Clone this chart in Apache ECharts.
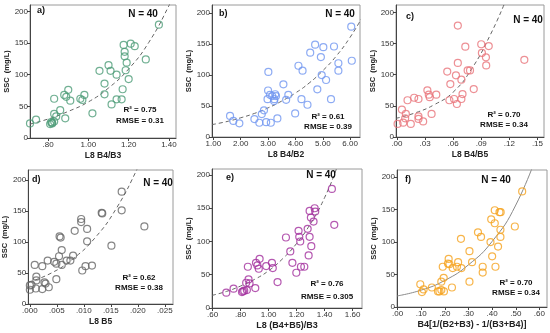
<!DOCTYPE html>
<html><head><meta charset="utf-8">
<script src="https://cdn.jsdelivr.net/npm/echarts@6/dist/echarts.min.js"></script>
<style>html,body{margin:0;padding:0;background:#fff}#c{width:550px;height:333px}</style>
</head><body><div id="c"></div>
<script>
// ---- Panel a: L8 B4/B3 ----
const aX = [0.71,0.74,0.81,0.82,0.83,0.83,0.84,0.86,0.885,0.83,0.88,0.89,0.90,0.91,0.96,0.97,0.98,1.02,1.055,1.08,1.08,1.10,1.11,1.115,1.14,1.14,1.165,1.17,1.175,1.18,1.18,1.19,1.185,1.20,1.21,1.23,1.285,1.35,0.82,0.815];
const aY = [23,29,22,24,26,38,34,44,31,62,68,65,76,59,62,60,68,39,106,86,69,115,106,53,100,61,61,77,147,136,129,119,107,93,149,145,124,179,23,25];
const aFitX = [0.71,0.80,0.90,1.00,1.10,1.20,1.30,1.40,1.45];
const aFitY = [22,30,42,57,79,109,151,209,245];
const aTicks = [0.8,1.0,1.2,1.4];
// ---- Panel b: L8 B4/B2 ----
const bX = [1.61,1.73,1.95,2.50,2.68,2.77,2.85,2.93,3.10,3.34,3.01,3.00,3.07,2.98,3.15,3.26,3.23,3.22,3.29,3.56,3.66,3.74,3.99,4.11,4.26,4.22,4.44,4.54,4.72,4.93,5.02,4.96,5.12,4.80,5.30,5.41,5.57,5.57,6.04,6.06];
const bY = [34,26,22,29,23,37,43,24,23,30,105,75,68,61,66,69,61,58,66,85,60,68,38,115,107,61,52,136,149,129,145,100,92,77,61,146,119,107,178,123];
const bFitX = [0.95,1.5,2,2.5,3,3.5,4,4.5,5,5.5,6,6.4];
const bFitY = [20,25,31,38,47,58,71,87,107,131,161,190];
const bTicks = [1,2,3,4,5,6];
// ---- Panel c: L8 B4/B5 ----
const cX = [0.0007,0.0053,0.0067,0.0088,0.0095,0.0113,0.0148,0.0184,0.023,0.023,0.023,0.028,0.0325,0.034,0.035,0.037,0.042,0.0537,0.057,0.056,0.061,0.063,0.064,0.065,0.065,0.0688,0.0688,0.070,0.073,0.0755,0.078,0.082,0.090,0.0907,0.095,0.0953,0.098,0.136];
const cY = [21,44,23,30,37,59,21,63,61,33,29,25,75,68,64,37,68,105,85,59,61,99,53,119,179,92,61,69,145,107,107,77,149,135,128,115,146,124];
const cFitX = [-0.001,0.02,0.04,0.06,0.08,0.10,0.115];
const cFitY = [30,39,52,72,110,165,215];
const cTicks = [0,0.03,0.06,0.09,0.12,0.15];
// ---- Panel d: L8 B5 ----
const dX = [0,0,0.0003,0.0009,0.0012,0.0012,0.0011,0.0023,0.0023,0.0027,0.0029,0.0033,0.0035,0.0045,0.0049,0.0049,0.0054,0.0055,0.0057,0.0059,0.0059,0.0068,0.0075,0.0080,0.0083,0.0095,0.0095,0.0097,0.0103,0.0106,0.0106,0.0115,0.0133,0.0151,0.0170,0.0170,0.0212,0.0134];
const dY = [23,30,31,63,44,38,25,61,24,35,33,70,27,68,65,40,77,109,107,87,63,70,70,78,118,137,132,54,61,121,101,62,147,94,181,151,125,146];
const dFitX = [-0.0003,0.004,0.008,0.012,0.016,0.020,0.022];
const dFitY = [35,50,73,106,154,220,260];
const dTicks = [0,0.005,0.01,0.015,0.02,0.025];
// ---- Panel e: L8 (B4+B5)/B3 ----
const eX = [0.698,0.75,0.81,0.817,0.826,0.845,0.84,0.857,0.864,0.852,0.905,0.91,0.92,0.93,0.936,0.983,1.024,1.03,1.064,1.124,1.155,1.17,1.198,1.214,1.219,1.226,1.231,1.255,1.279,1.286,1.293,1.293,1.302,1.305,1.321,1.329,1.333,1.452,1.469];
const eY = [23,29,24,25,26,27,38,43,37,62,30,68,64,59,74,63,68,60,39,106,85,68,53,116,107,100,62,62,119,79,107,146,136,93,130,150,145,179,125];
const eFitX = [0.596,0.7,0.8,0.9,1.0,1.1,1.2,1.3,1.4,1.5,1.55];
const eFitY = [19,25,33,43,56,74,97,127,166,218,250];
const eTicks = [0.6,0.8,1.0,1.2,1.4,1.6];
// ---- Panel f: B4[1/(B2+B3) - 1/(B3+B4)] ----
const fX = [0.096,0.103,0.110,0.145,0.171,0.177,0.185,0.196,0.185,0.195,0.191,0.230,0.216,0.213,0.219,0.233,0.251,0.256,0.270,0.268,0.304,0.304,0.315,0.340,0.353,0.360,0.360,0.393,0.396,0.400,0.411,0.411,0.414,0.425,0.431,0.436,0.435,0.435,0.496,0.527];
const fY = [35,23,27,30,24,24,26,24,39,45,62,30,74,67,66,60,62,69,60,105,86,39,69,115,108,62,53,100,135,78,129,149,62,93,146,146,119,108,124,178];
const fFitX = [-0.0025,0.1,0.2,0.3,0.4,0.5,0.6];
const fFitY = [17,26,41,65,101,157,245];
const fTicks = [0,0.1,0.2,0.3,0.4,0.5,0.6];

const yTicks = [0,50,100,150,200];
const panelLabels = ['a)','b)','c)','d)','e)','f)'];
const xTitles = ['L8 B4/B3','L8 B4/B2','L8 B4/B5','L8 B5','L8 (B4+B5)/B3','B4[1/(B2+B3) - 1/(B3+B4)]'];
const yTitle = 'SSC  (mg/L)';
const nText = 'N = 40';
const r2Values = ['0.75','0.61','0.70','0.62','0.76','0.70'];
const rmseValues = ['0.31','0.39','0.34','0.38','0.305','0.34'];

const FONT = '"Liberation Sans", Arial, sans-serif';
const panels = [
  {x:aX,y:aY,fx:aFitX,fy:aFitY,ticks:aTicks,dec:2,xmin:0.71,xmax:1.435,ymax:210,color:'#4e9c78',solid:false,
   grid:{left:30,top:5,width:146,height:133},lab:[37,11],n:[143,14],stat:[140,110,121]},
  {x:bX,y:bY,fx:bFitX,fy:bFitY,ticks:bTicks,dec:2,xmin:0.95,xmax:6.36,ymax:213,color:'#7096f0',solid:false,
   grid:{left:212,top:5,width:148,height:132},lab:[219,14],n:[340,14],stat:[328,117,127]},
  {x:cX,y:cY,fx:cFitX,fy:cFitY,ticks:cTicks,dec:2,xmin:-0.001,xmax:0.157,ymax:212,color:'#e8747a',solid:false,
   grid:{left:396,top:5,width:148,height:132},lab:[406,17],n:[528,20],stat:[504,115,125]},
  {x:dX,y:dY,fx:dFitX,fy:dFitY,ticks:dTicks,dec:3,xmin:-0.0003,xmax:0.0265,ymax:216,color:'#666666',solid:false,
   grid:{left:25,top:170,width:148,height:134},lab:[32,180],n:[158,183],stat:[139,278,288]},
  {x:eX,y:eY,fx:eFitX,fy:eFitY,ticks:eTicks,dec:2,xmin:0.596,xmax:1.667,ymax:209,color:'#a2309e',solid:false,
   grid:{left:212,top:169,width:150,height:139},lab:[226,178],n:[321,175],stat:[327,284,297]},
  {x:fX,y:fY,fx:fFitX,fy:fFitY,ticks:fTicks,dec:2,xmin:-0.0025,xmax:0.632,ymax:211,color:'#f5a21e',solid:true,
   grid:{left:397,top:170,width:150,height:137},lab:[405,180],n:[496,180],stat:[516,283,293]}
];

function fmt(v, dec){ return v.toFixed(dec).replace(/^0\./,'.').replace(/^-0\./,'-.'); }

const option = {animation:false, backgroundColor:'#fff', grid:[], xAxis:[], yAxis:[], series:[], graphic:[]};
panels.forEach((p,i)=>{
  option.grid.push(Object.assign({show:true, borderColor:'#9a9a9a', borderWidth:1, backgroundColor:'#fff'}, p.grid));
  option.xAxis.push({
    type:'value', gridIndex:i, min:p.xmin, max:p.xmax,
    name:xTitles[i], nameLocation:'middle', nameGap:13,
    nameTextStyle:{fontFamily:FONT, fontWeight:'bold', fontSize:(i>=4?9:8.5), color:'#222'},
    axisLine:{show:true, onZero:false, lineStyle:{color:'#444', width:1}},
    axisTick:{show:true, length:3, customValues:p.ticks, lineStyle:{color:'#444'}},
    axisLabel:{customValues:p.ticks, margin:3, fontSize:8, fontFamily:FONT, color:'#333', formatter:v=>fmt(v,p.dec)},
    splitLine:{show:false}
  });
  option.yAxis.push({
    type:'value', gridIndex:i, min:0, max:p.ymax,
    name:yTitle, nameLocation:'middle', nameGap:17, nameRotate:90,
    nameTextStyle:{fontFamily:FONT, fontWeight:'bold', fontSize:7.5, color:'#222'},
    axisLine:{show:true, onZero:false, lineStyle:{color:'#444', width:1}},
    axisTick:{show:true, length:3, customValues:yTicks, lineStyle:{color:'#444'}},
    axisLabel:{customValues:yTicks, margin:2, fontSize:8, fontFamily:FONT, color:'#333'},
    splitLine:{show:false}
  });
  option.series.push({
    type:'line', xAxisIndex:i, yAxisIndex:i, data:p.fx.map((v,k)=>[v,p.fy[k]]),
    smooth:true, showSymbol:false, clip:true, z:1, silent:true,
    lineStyle:{color:p.solid?'#8a8a8a':'#666', width:1, type:p.solid?'solid':[4,3]}
  });
  option.series.push({
    type:'scatter', xAxisIndex:i, yAxisIndex:i, data:p.x.map((v,k)=>[v,p.y[k]]),
    symbol:'circle', symbolSize:7, z:2,
    itemStyle:{color:'rgba(0,0,0,0)', borderColor:p.color, borderWidth:1.2}
  });
  const T = (x,y,text,size,align)=>({type:'text', x:x, y:y, z:10,
    style:{text:text, font:'bold '+size+'px '+FONT, fill:'#111', align:align, verticalAlign:'middle', textAlign:align, textVerticalAlign:'middle'}});
  option.graphic.push(T(p.lab[0],p.lab[1],panelLabels[i],9,'left'));
  option.graphic.push(T(p.n[0],p.n[1],nText,10,'center'));
  option.graphic.push(T(p.stat[0],p.stat[1],'R\u00b2 = '+r2Values[i],8,'center'));
  option.graphic.push(T(p.stat[0],p.stat[2],'RMSE = '+rmseValues[i],8,'center'));
});
const chart = echarts.init(document.getElementById('c'));
chart.setOption(option);
</script>
</body></html>
